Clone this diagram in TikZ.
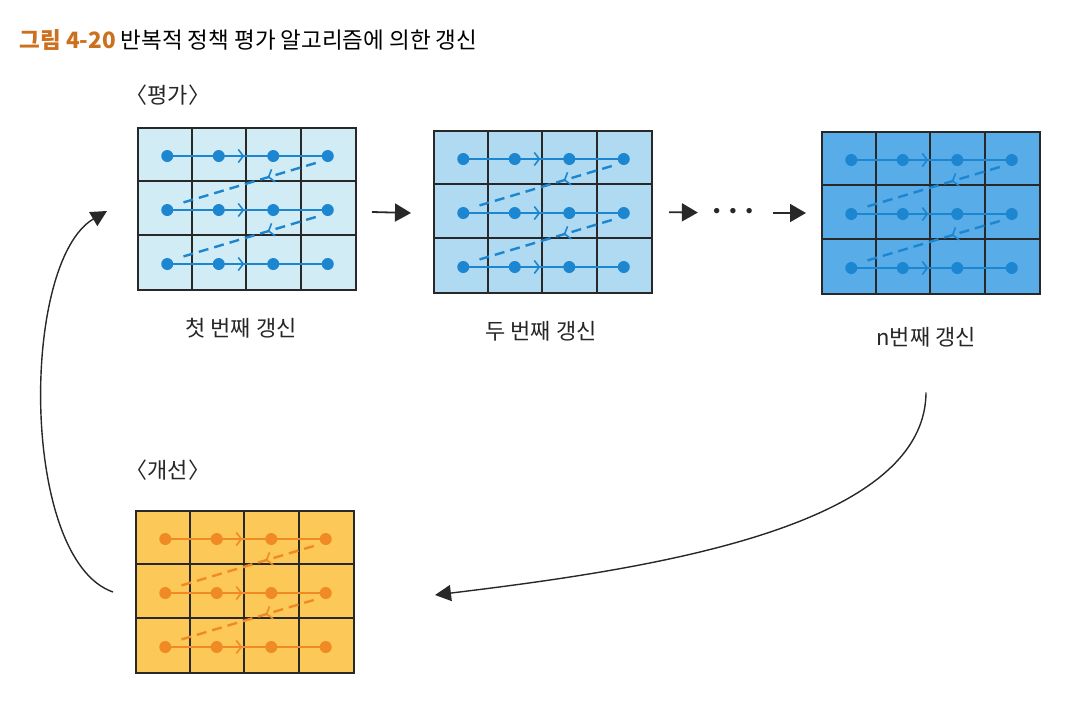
\documentclass[tikz,border=0pt]{standalone}
\usepackage{fontspec}
\newfontfamily\kr{Noto Sans CJK KR}
\usetikzlibrary{arrows.meta,calc,decorations.markings}

\definecolor{evalA}{RGB}{210,236,246}
\definecolor{evalB}{RGB}{176,218,242}
\definecolor{evalC}{RGB}{88,172,232}
\definecolor{impr}{RGB}{252,200,88}
\definecolor{bluedot}{RGB}{28,134,208}
\definecolor{orangedot}{RGB}{240,138,36}
\definecolor{gridgray}{RGB}{40,40,40}
\definecolor{arrowgray}{RGB}{40,40,40}
\definecolor{titleorange}{RGB}{204,112,30}

\tikzset{
    cell/.style={draw=gridgray, line width=2pt},
    path line/.style={line width=2.4pt},
    mid tip/.style={postaction={decorate}, decoration={markings,
            mark=at position #1 with {\arrow{Straight Barb[length=5pt,width=13pt,line width=1.6pt]}}}},
    flow/.style={draw=arrowgray, line width=1.8pt, -{Triangle[length=16pt,width=18pt]}},
    loop arrow/.style={draw=arrowgray, line width=1.4pt, -{Triangle[length=16pt,width=16pt]}},
    caption/.style={font=\kr\fontsize{22}{22}\selectfont, text=black!85}
}

\begin{document}
\begin{tikzpicture}[x=1pt,y=-1pt]
        \def\cellW{54.5}
        \def\cellH{54}
        \useasboundingbox (0,0) rectangle (1082,710);

        % title and headings
        \node[anchor=west, font=\kr\fontsize{22.5}{22.5}\selectfont] (title) at (16,40)
            {\textcolor{titleorange}{\textbf{그림 4-20}} 반복적 정책 평가 알고리즘에 의한 갱신};
        \node[caption, anchor=west] (evalhead) at (122,95) {〈평가〉};
        \node[caption, anchor=west] (imprhead) at (122,470) {〈개선〉};

        % the four grids
        \foreach \gx/\gy/\gfill/\gline/\gname in {137/127/evalA/bluedot/g1,433/130/evalB/bluedot/g2,821/131/evalC/bluedot/g3,135/510/impr/orangedot/g4} {
                \begin{scope}[shift={(\gx,\gy)}]
                    \node[cell, fill=\gfill, minimum width=218pt, minimum height=162pt, inner sep=0pt, anchor=north west] (\gname) at (0,0) {};
                    \foreach \c in {1,2,3}
                        \draw[cell] (\c*\cellW,0) -- (\c*\cellW,3*\cellH);
                    \foreach \r in {1,2}
                        \draw[cell] (0,\r*\cellH) -- (4*\cellW,\r*\cellH);

                    \foreach \r in {0,1,2} {
                            \draw[path line, color=\gline, mid tip=.48] (\cellW/2+3,{(\r+.5)*\cellH+2}) -- ({3.5*\cellW},{(\r+.5)*\cellH+2});
                            \foreach \c in {0,...,3}
                                \fill[color=\gline] ({(\c+.5)*\cellW+(\c==0)*3},{(\r+.5)*\cellH+2}) circle (6);
                        }
                    \foreach \r in {0,1}
                        \draw[path line, color=\gline, dash pattern=on 10pt off 6pt, mid tip=.35] ({3.5*\cellW-12},{(\r+.5)*\cellH+9}) -- ({.5*\cellW+14},{(\r+1.5)*\cellH-4});
                \end{scope}
            }

        % captions
        \node[caption] (l1) at (241,328) {첫 번째 갱신};
        \node[caption] (l2) at (541,331) {두 번째 갱신};
        \node[caption] (l3) at (926,337) {n번째 갱신};

        % arrows between the grids
        \node[inner sep=0pt, text=arrowgray, font=\fontsize{24}{24}\selectfont] (dots) at (733,213) {\textbullet\hspace{-1pt}\textbullet\hspace{-1pt}\textbullet};
        \draw[flow] ([shift={(15pt,-3pt)}]g1.east) -- ([shift={(-22pt,-1pt)}]g2.west);
        \draw[flow, shorten <=16pt, shorten >=10pt] (g2.east) -- (dots);
        \draw[flow, shorten <=15pt, shorten >=15pt] (dots) -- (g3.west);

        % loop back
        \coordinate (from3) at ($(l3.south)+(0,42)$);
        \coordinate (to4) at ($(g4.east)+(80,3)$);
        \draw[loop arrow] (from3) .. controls (925,530) and (640,570) .. (to4);
        \coordinate (from4) at ($(g4.west)+(-22,0)$);
        \coordinate (to1) at ($(g1.west)+(-30,2)$);
        \draw[loop arrow] (from4) .. controls (20,560) and (20,262) .. (to1);
\end{tikzpicture}
\end{document}
